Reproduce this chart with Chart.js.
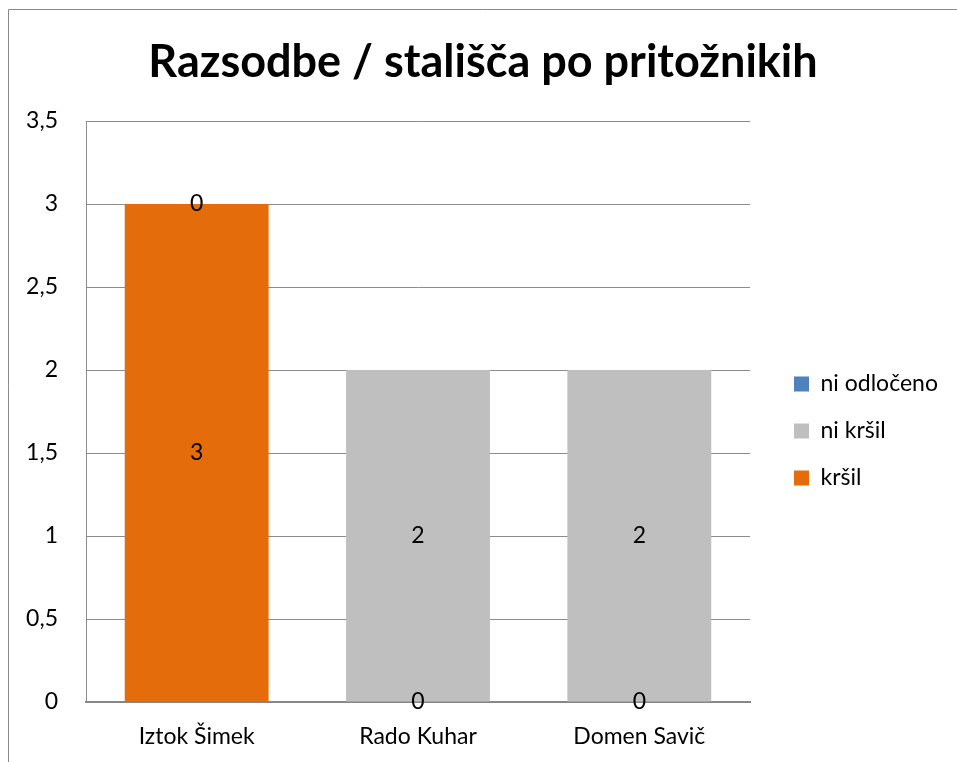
<!DOCTYPE html>
<html>
<head>
<meta charset="utf-8">
<script src="https://cdn.jsdelivr.net/npm/chart.js@4"></script>
<style>
  html, body { margin: 0; padding: 0; background: #fff; }
  canvas { display: block; }
</style>
</head>
<body>
<canvas id="chart" width="957" height="762"></canvas>
<script>
(function () {
  const categories = ["Iztok Šimek", "Rado Kuhar", "Domen Savič"];
  const krsil = [3, 0, 0];
  const niKrsil = [0, 2, 2];
  const niOdloceno = [null, null, null];
  const yTickLabels = ["0", "0,5", "1", "1,5", "2", "2,5", "3", "3,5"];

  const FONT = "Lato, 'Open Sans', sans-serif";
  const TEXT_SIZE = 23;

  // outer frame (only top and left edges are visible in the crop)
  const framePlugin = {
    id: "frame",
    afterDraw(chart) {
      const ctx = chart.ctx;
      ctx.save();
      ctx.strokeStyle = "#8a8a8a";
      ctx.lineWidth = 1;
      ctx.beginPath();
      ctx.moveTo(8.5, chart.height);
      ctx.lineTo(8.5, 9.5);
      ctx.lineTo(chart.width, 9.5);
      ctx.stroke();
      ctx.restore();
    }
  };

  // value labels centred in each stacked segment
  const valueLabels = {
    id: "valueLabels",
    afterDatasetsDraw(chart) {
      const ctx = chart.ctx;
      ctx.save();
      ctx.font = TEXT_SIZE + "px " + FONT;
      ctx.fillStyle = "#000";
      ctx.textAlign = "center";
      ctx.textBaseline = "middle";
      chart.data.datasets.forEach((ds, i) => {
        const meta = chart.getDatasetMeta(i);
        meta.data.forEach((bar, j) => {
          const v = ds.data[j];
          if (v === null || v === undefined) return;
          const y = (bar.y + bar.base) / 2;
          ctx.fillText(String(v), bar.x, y);
        });
      });
      ctx.restore();
    }
  };

  // keep the legend column a fixed width and nudge it into place
  const legendFix = {
    id: "legendFix",
    beforeLayout(chart) {
      const lg = chart.legend;
      if (lg && !lg._fixed) {
        const fit = lg.fit;
        lg.fit = function () { fit.call(this); this.width = 207; };
        lg._fixed = true;
      }
    },
    afterLayout(chart) {
      const lg = chart.legend;
      if (!lg) return;
      lg.top += 50;
      lg.bottom += 50;
      lg.left += 20;
    }
  };

  new Chart(document.getElementById("chart"), {
    type: "bar",
    data: {
      labels: categories,
      datasets: [
        { label: "kršil", data: krsil, backgroundColor: "#E46C0A" },
        { label: "ni kršil", data: niKrsil, backgroundColor: "#BFBFBF" },
        { label: "ni odločeno", data: niOdloceno, backgroundColor: "#4F81BD" }
      ]
    },
    options: {
      responsive: false,
      animation: false,
      layout: { padding: { left: 9, right: 0, top: 0, bottom: 0 } },
      datasets: { bar: { barPercentage: 0.65, categoryPercentage: 1.0 } },
      scales: {
        x: {
          stacked: true,
          grid: { display: false, drawTicks: false },
          border: { display: true, color: "#868686", width: 2 },
          ticks: { color: "#000", font: { family: FONT, size: TEXT_SIZE }, padding: 21 },
          afterFit(scale) { scale.height = 60; }
        },
        y: {
          stacked: true,
          min: 0,
          max: 3.5,
          ticks: {
            stepSize: 0.5,
            color: "#000",
            font: { family: FONT, size: TEXT_SIZE },
            padding: 28,
            callback: (v, i) => yTickLabels[i]
          },
          grid: { color: "#8c8c8c", drawTicks: false },
          border: { display: true, color: "#8c8c8c" },
          afterFit(scale) { scale.width = 77; }
        }
      },
      plugins: {
        title: {
          display: true,
          text: "Razsodbe / stališča po pritožnikih",
          color: "#000",
          font: { family: FONT, size: 45, weight: "bold", lineHeight: 1.2 },
          padding: { top: 35, bottom: 32 }
        },
        legend: {
          position: "right",
          reverse: true,
          labels: {
            boxWidth: 15,
            boxHeight: 15,
            padding: 24,
            color: "#000",
            font: { family: FONT, size: TEXT_SIZE }
          }
        },
        tooltip: { enabled: false }
      }
    },
    plugins: [framePlugin, valueLabels, legendFix]
  });
})();
</script>
</body>
</html>
